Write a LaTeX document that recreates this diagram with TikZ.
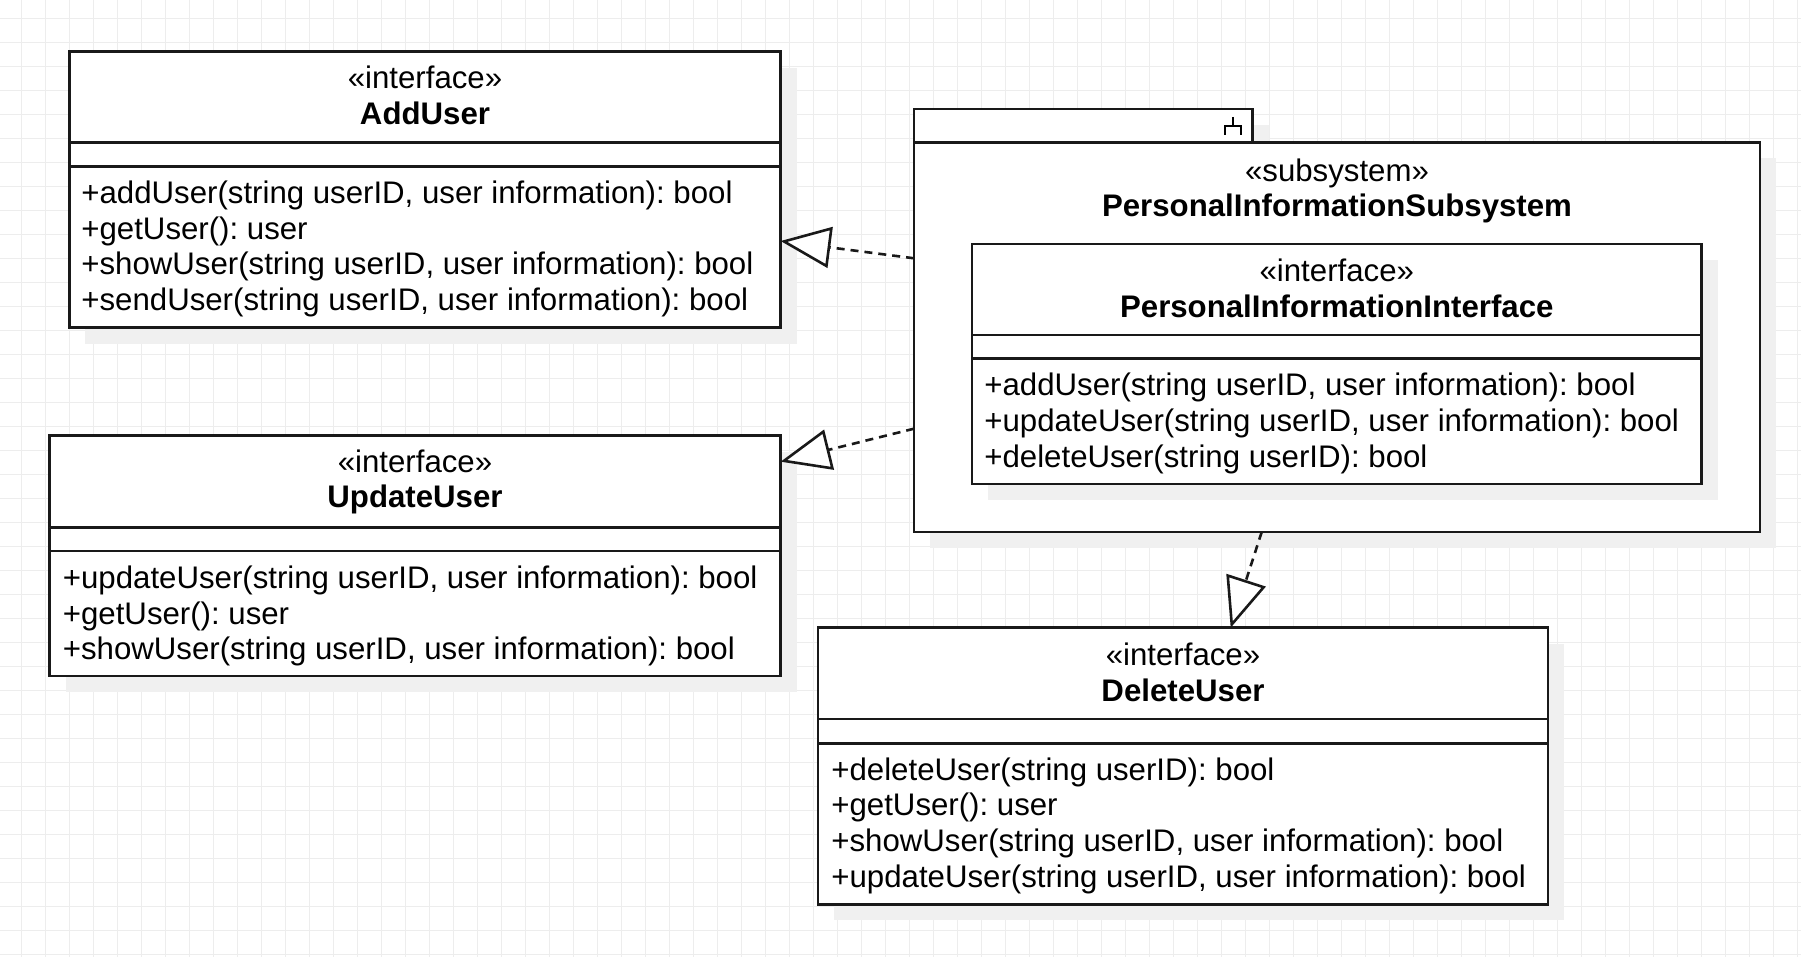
\documentclass[tikz,border=0pt]{standalone}
\usepackage{fontspec}
\setmainfont{Liberation Sans}
\usetikzlibrary{arrows.meta}
\frenchspacing

\begin{document}
\begin{tikzpicture}[x=0.5pt,y=-0.5pt,
  gridline/.style={draw=black!7,line width=0.6pt},
  boxshadow/.style={fill=black!6},
  umlbox/.style={draw=black!90,fill=white,line width=1.3pt},
  title/.style={align=center,inner sep=0pt,font=\fontsize{15.6pt}{17.85pt}\selectfont},
  member/.style={align=left,anchor=west,inner sep=0pt,font=\fontsize{15.6pt}{17.85pt}\selectfont},
  realize/.style={draw=black!90,line width=1.3pt,dash pattern=on 4pt off 3pt,
    -{Triangle[length=25pt,width=20.5pt,fill=white]}}]
\useasboundingbox (0,0) rectangle (1801,957);
\fill[white] (0,0) rectangle (1801,957);

% background grid
\foreach \gx in {0,...,74} \draw[gridline] ({21.7+24*\gx},0) -- ({21.7+24*\gx},957);
\foreach \gy in {0,...,39} \draw[gridline] (0,{18.3+24*\gy}) -- (1801,{18.3+24*\gy});

% AddUser
\fill[boxshadow] (85.3,67.7) rectangle (796.6,343.7);
\draw[umlbox] (69.3,51.7) rectangle (780.6,327.7);
\draw[umlbox] (69.3,142.7) -- (780.6,142.7) (69.3,166.7) -- (780.6,166.7);
\node[title] (add-title) at (425,95.5) {«interface»\\\textbf{AddUser}};
\node[member] (add-ops) at (81,249) {+addUser(string userID, user information): bool\\+getUser(): user\\+showUser(string userID, user information): bool\\+sendUser(string userID, user information): bool};

% UpdateUser
\fill[boxshadow] (65.5,451.7) rectangle (796.6,692);
\draw[umlbox] (49.5,435.7) rectangle (780.6,676);
\draw[umlbox] (49.5,527.3) -- (780.6,527.3) (49.5,551) -- (780.6,551);
\node[title] (upd-title) at (415,482) {«interface»\\\textbf{UpdateUser}};
\node[member] (upd-ops) at (62.5,616) {+updateUser(string userID, user information): bool\\+getUser(): user\\+showUser(string userID, user information): bool};

% subsystem with tab
\fill[boxshadow] (930,125) rectangle (1268.5,158.3);
\fill[boxshadow] (930,158.3) rectangle (1776,548);
\draw[umlbox] (914,109) rectangle (1252.5,142.3);
\draw[umlbox] (914,142.3) rectangle (1760,532);
\draw[line width=1.3pt] (1233,117) -- (1233,126) (1225,135) -- (1225,126) -- (1241,126) -- (1241,135);
\node[title] (sub-title) at (1337,191) {«subsystem»\\\textbf{PersonalInformationSubsystem}};

% inner interface
\fill[boxshadow] (988,260) rectangle (1717.6,500);
\draw[umlbox] (972,244) rectangle (1701.6,484);
\draw[umlbox] (972,335) -- (1701.6,335) (972,358.7) -- (1701.6,358.7);
\node[title] (pii-title) at (1336.8,288) {«interface»\\\textbf{PersonalInformationInterface}};
\node[member] (pii-ops) at (984,423.5) {+addUser(string userID, user information): bool\\+updateUser(string userID, user information): bool\\+deleteUser(string userID): bool};

% DeleteUser
\fill[boxshadow] (834,643.7) rectangle (1564,920.3);
\draw[umlbox] (818,627.7) rectangle (1548,904.3);
\draw[umlbox] (818,719) -- (1548,719) (818,743.3) -- (1548,743.3);
\node[title] (del-title) at (1183,672.5) {«interface»\\\textbf{DeleteUser}};
\node[member] (del-ops) at (831,825.5) {+deleteUser(string userID): bool\\+getUser(): user\\+showUser(string userID, user information): bool\\+updateUser(string userID, user information): bool};

% realizations
\coordinate (sub-w1) at (914,258.3);
\coordinate (add-e) at (780.6,241);
\coordinate (sub-w2) at (914,428.7);
\coordinate (upd-e) at (780.6,461.7);
\coordinate (sub-s) at (1261.7,532);
\coordinate (del-n) at (1230.7,627.7);
\draw[realize] (sub-w1) -- (add-e);
\draw[realize] (sub-w2) -- (upd-e);
\draw[realize] (sub-s) -- (del-n);
\end{tikzpicture}
\end{document}
